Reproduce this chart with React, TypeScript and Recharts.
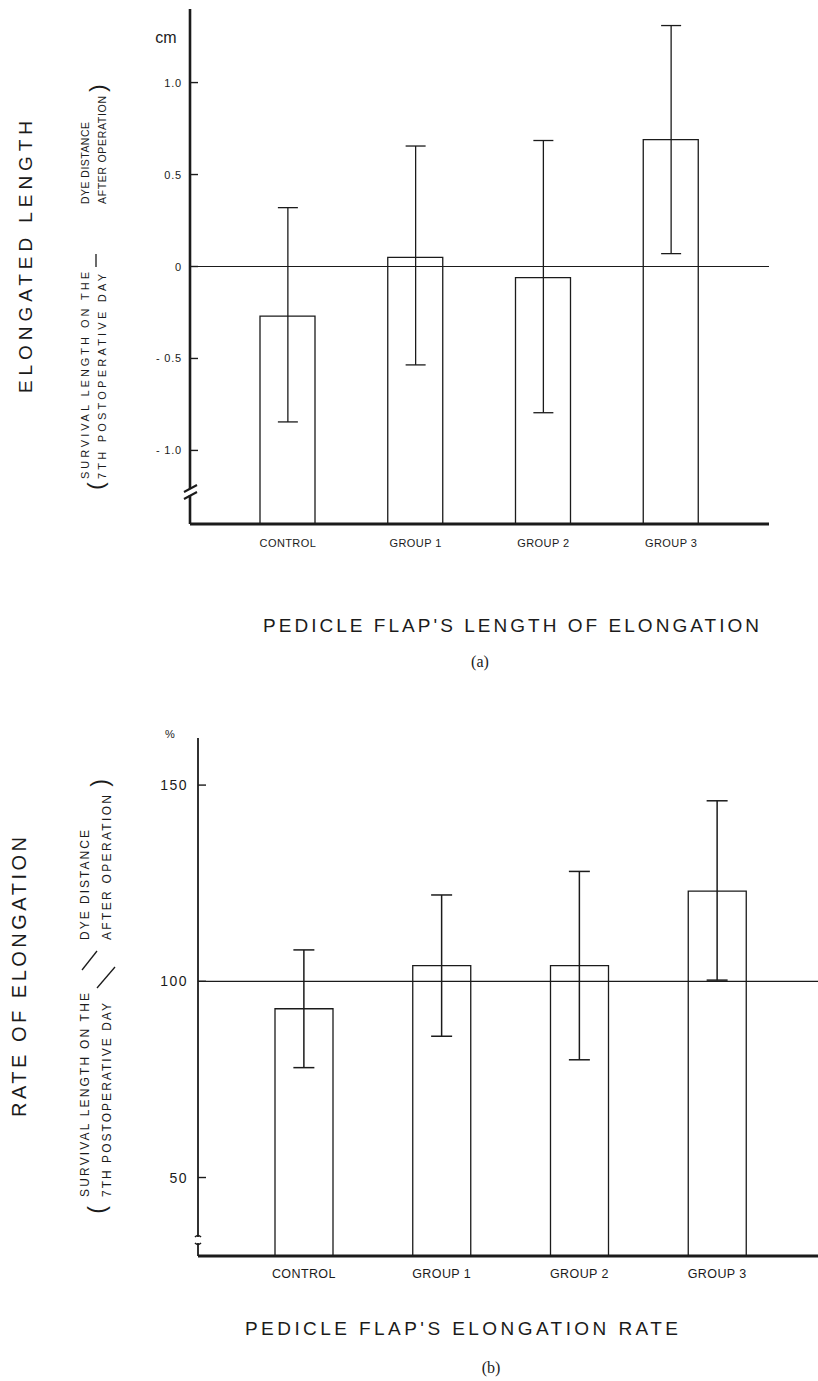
import React from "react";
import {
  ComposedChart,
  Bar,
  Line,
  ErrorBar,
  XAxis,
  YAxis,
  ReferenceLine,
} from "recharts";

// groups on the x axis (same for both panels)
const groups = ["CONTROL", "GROUP 1", "GROUP 2", "GROUP 3"];

// (a) elongated length, cm
const lengthMean = [-0.27, 0.05, -0.06, 0.69];
const lengthHigh = [0.32, 0.655, 0.685, 1.31];
const lengthLow = [-0.845, -0.535, -0.795, 0.07];
const lengthTicks = [1.0, 0.5, 0, -0.5, -1.0];
const lengthTickLabels = ["1.0", "0.5", "0", "- 0.5", "- 1.0"];
const lengthDomain = [-1.4, 1.4];

// (b) rate of elongation, %
const rateMean = [93, 104, 104, 123];
const rateHigh = [108, 122, 128, 146];
const rateLow = [78, 86, 80, 100.3];
const rateTicks = [150, 100, 50];
const rateTickLabels = ["150", "100", "50"];
const rateDomain = [30, 162];

const INK = "#1b1b1b";
const SANS = "'Liberation Sans', Arial, Helvetica, sans-serif";
const SERIF = "'Liberation Serif', 'DejaVu Serif', serif";

function buildRows(mean: number[], low: number[], high: number[], base: number) {
  return groups.map((name, i) => ({
    name,
    range: [base, mean[i]],
    mean: mean[i],
    err: [mean[i] - low[i], high[i] - mean[i]],
  }));
}

const lengthRows = buildRows(lengthMean, lengthLow, lengthHigh, lengthDomain[0]);
const rateRows = buildRows(rateMean, rateLow, rateHigh, rateDomain[0]);

// y tick: label on the left, short tick mark pointing into the plot
const YTick = (props: any) => {
  const { x, y, payload, ticks, labels, gap, fontSize, spacing } = props;
  const idx = ticks.indexOf(payload.value);
  const axisX = x + gap;
  return (
    <g>
      <line x1={axisX} x2={axisX + 8} y1={y} y2={y} stroke={INK} strokeWidth={1.4} />
      <text
        x={x}
        y={y}
        textAnchor="end"
        dominantBaseline="central"
        fontSize={fontSize}
        fontFamily={SANS}
        letterSpacing={spacing}
        fill={INK}
      >
        {idx >= 0 ? labels[idx] : payload.value}
      </text>
    </g>
  );
};

const Vert = ({ x, y, size, len, anchor = "start", children }: any) => (
  <text
    transform={`translate(${x},${y}) rotate(-90)`}
    textAnchor={anchor}
    dominantBaseline="central"
    fontSize={size}
    fontFamily={SANS}
    fill={INK}
    textLength={len}
    lengthAdjust="spacing"
  >
    {children}
  </text>
);

export default function App() {
  return (
    <div
      style={{
        position: "absolute",
        left: 0,
        top: 0,
        width: 818,
        height: 1381,
        background: "#fff",
        overflow: "hidden",
      }}
    >
      {/* panel (a) */}
      <div style={{ position: "absolute", left: 0, top: 0 }}>
        <ComposedChart
          width={818}
          height={560}
          data={lengthRows}
          margin={{ top: 9, right: 49, bottom: 0, left: 130 }}
        >
          <XAxis
            dataKey="name"
            height={36}
            padding={{ left: 34, right: 34 }}
            axisLine={{ stroke: INK, strokeWidth: 3 }}
            tickLine={false}
            tickSize={0}
            tickMargin={15}
            tick={{ fill: INK, fontSize: 11, fontFamily: SANS, letterSpacing: 0.4 }}
          />
          <YAxis
            type="number"
            width={60}
            domain={lengthDomain}
            ticks={lengthTicks}
            allowDataOverflow
            axisLine={{ stroke: INK, strokeWidth: 2.6 }}
            tickLine={false}
            tickSize={0}
            tickMargin={8}
            tick={
              <YTick
                ticks={lengthTicks}
                labels={lengthTickLabels}
                gap={8}
                fontSize={11}
                spacing={0.8}
              />
            }
          />
          <Bar
            dataKey="range"
            fill="none"
            stroke={INK}
            strokeWidth={1.3}
            barSize={55}
            isAnimationActive={false}
          />
          <ReferenceLine y={0} stroke={INK} strokeWidth={1.2} />
          <Line
            dataKey="mean"
            stroke="none"
            dot={false}
            activeDot={false}
            legendType="none"
            isAnimationActive={false}
          >
            <ErrorBar dataKey="err" width={10} stroke={INK} strokeWidth={1.3} isAnimationActive={false} />
          </Line>
        </ComposedChart>
      </div>

      {/* panel (b) */}
      <div style={{ position: "absolute", left: 0, top: 700 }}>
        <ComposedChart
          width={818}
          height={600}
          data={rateRows}
          margin={{ top: 38, right: 0, bottom: 0, left: 138 }}
        >
          <XAxis
            dataKey="name"
            height={44}
            padding={{ left: 37, right: 32 }}
            axisLine={{ stroke: INK, strokeWidth: 3 }}
            tickLine={false}
            tickSize={0}
            tickMargin={13}
            tick={{ fill: INK, fontSize: 12.5, fontFamily: SANS, letterSpacing: 0.4 }}
          />
          <YAxis
            type="number"
            width={60}
            domain={rateDomain}
            ticks={rateTicks}
            allowDataOverflow
            axisLine={{ stroke: INK, strokeWidth: 1.8 }}
            tickLine={false}
            tickSize={0}
            tickMargin={10}
            tick={
              <YTick
                ticks={rateTicks}
                labels={rateTickLabels}
                gap={10}
                fontSize={14}
                spacing={1.5}
              />
            }
          />
          <Bar
            dataKey="range"
            fill="none"
            stroke={INK}
            strokeWidth={1.3}
            barSize={58}
            isAnimationActive={false}
          />
          <ReferenceLine y={100} stroke={INK} strokeWidth={1.3} />
          <Line
            dataKey="mean"
            stroke="none"
            dot={false}
            activeDot={false}
            legendType="none"
            isAnimationActive={false}
          >
            <ErrorBar dataKey="err" width={10.5} stroke={INK} strokeWidth={1.5} isAnimationActive={false} />
          </Line>
        </ComposedChart>
      </div>

      {/* annotations */}
      <svg
        width={818}
        height={1381}
        style={{ position: "absolute", left: 0, top: 0, pointerEvents: "none" }}
      >
        {/* panel (a) side labels */}
        <text x={166} y={43} textAnchor="middle" fontSize={16} fontFamily={SANS} fill={INK}>
          cm
        </text>
        <Vert x={25} y={257} size={19} len={272} anchor="middle">
          ELONGATED LENGTH
        </Vert>
        <Vert x={85} y={479} size={11} len={207}>SURVIVAL LENGTH ON THE</Vert>
        <Vert x={102} y={479} size={11} len={205}>7TH POSTOPERATIVE DAY</Vert>
        <Vert x={85} y={204} size={10.5} len={82}>DYE DISTANCE</Vert>
        <Vert x={102} y={204} size={10.5} len={108}>AFTER OPERATION</Vert>
        <Vert x={95} y={486} size={22} anchor="middle">(</Vert>
        <Vert x={97} y={88} size={22} anchor="middle">)</Vert>
        <line x1={96} x2={96} y1={254} y2={267} stroke={INK} strokeWidth={1.3} />

        {/* y axis break (a) */}
        <rect x={185} y={489} width={11} height={6} fill="#fff" />
        <line x1={184} y1={492} x2={197} y2={485} stroke={INK} strokeWidth={2} />
        <line x1={184} y1={499} x2={197} y2={492} stroke={INK} strokeWidth={2} />

        <text
          x={263}
          y={632}
          fontSize={19}
          fontFamily={SANS}
          fill={INK}
          textLength={496}
          lengthAdjust="spacing"
        >
          PEDICLE  FLAP'S LENGTH  OF ELONGATION
        </text>
        <text x={480} y={667} textAnchor="middle" fontSize={16} fontFamily={SERIF} fill={INK}>
          (a)
        </text>

        {/* panel (b) side labels */}
        <text x={170} y={738} textAnchor="middle" fontSize={11} fontFamily={SANS} fill={INK}>
          %
        </text>
        <Vert x={19} y={977} size={20} len={280} anchor="middle">
          RATE OF ELONGATION
        </Vert>
        <Vert x={85} y={1197} size={12} len={204}>SURVIVAL LENGTH ON THE</Vert>
        <Vert x={107} y={1197} size={12} len={194}>7TH POSTOPERATIVE DAY</Vert>
        <Vert x={85} y={940} size={12} len={110}>DYE DISTANCE</Vert>
        <Vert x={107} y={940} size={12} len={145}>AFTER OPERATION</Vert>
        <Vert x={97} y={1210} size={23} anchor="middle">(</Vert>
        <Vert x={100} y={783} size={23} anchor="middle">)</Vert>
        <line x1={82} y1={970} x2={97} y2={951} stroke={INK} strokeWidth={1.3} />
        <line x1={97} y1={988} x2={115} y2={967} stroke={INK} strokeWidth={1.3} />

        {/* y axis break (b) */}
        <rect x={194} y={1237} width={9} height={6} fill="#fff" />
        <path d="M195 1237 q3 -3 6 0" fill="none" stroke={INK} strokeWidth={1.6} />
        <path d="M195 1243 q3 3 6 0" fill="none" stroke={INK} strokeWidth={1.6} />

        <text
          x={245}
          y={1335}
          fontSize={19}
          fontFamily={SANS}
          fill={INK}
          textLength={433}
          lengthAdjust="spacing"
        >
          PEDICLE FLAP'S ELONGATION RATE
        </text>
        <text x={491} y={1373} textAnchor="middle" fontSize={16} fontFamily={SERIF} fill={INK}>
          (b)
        </text>
      </svg>
    </div>
  );
}
